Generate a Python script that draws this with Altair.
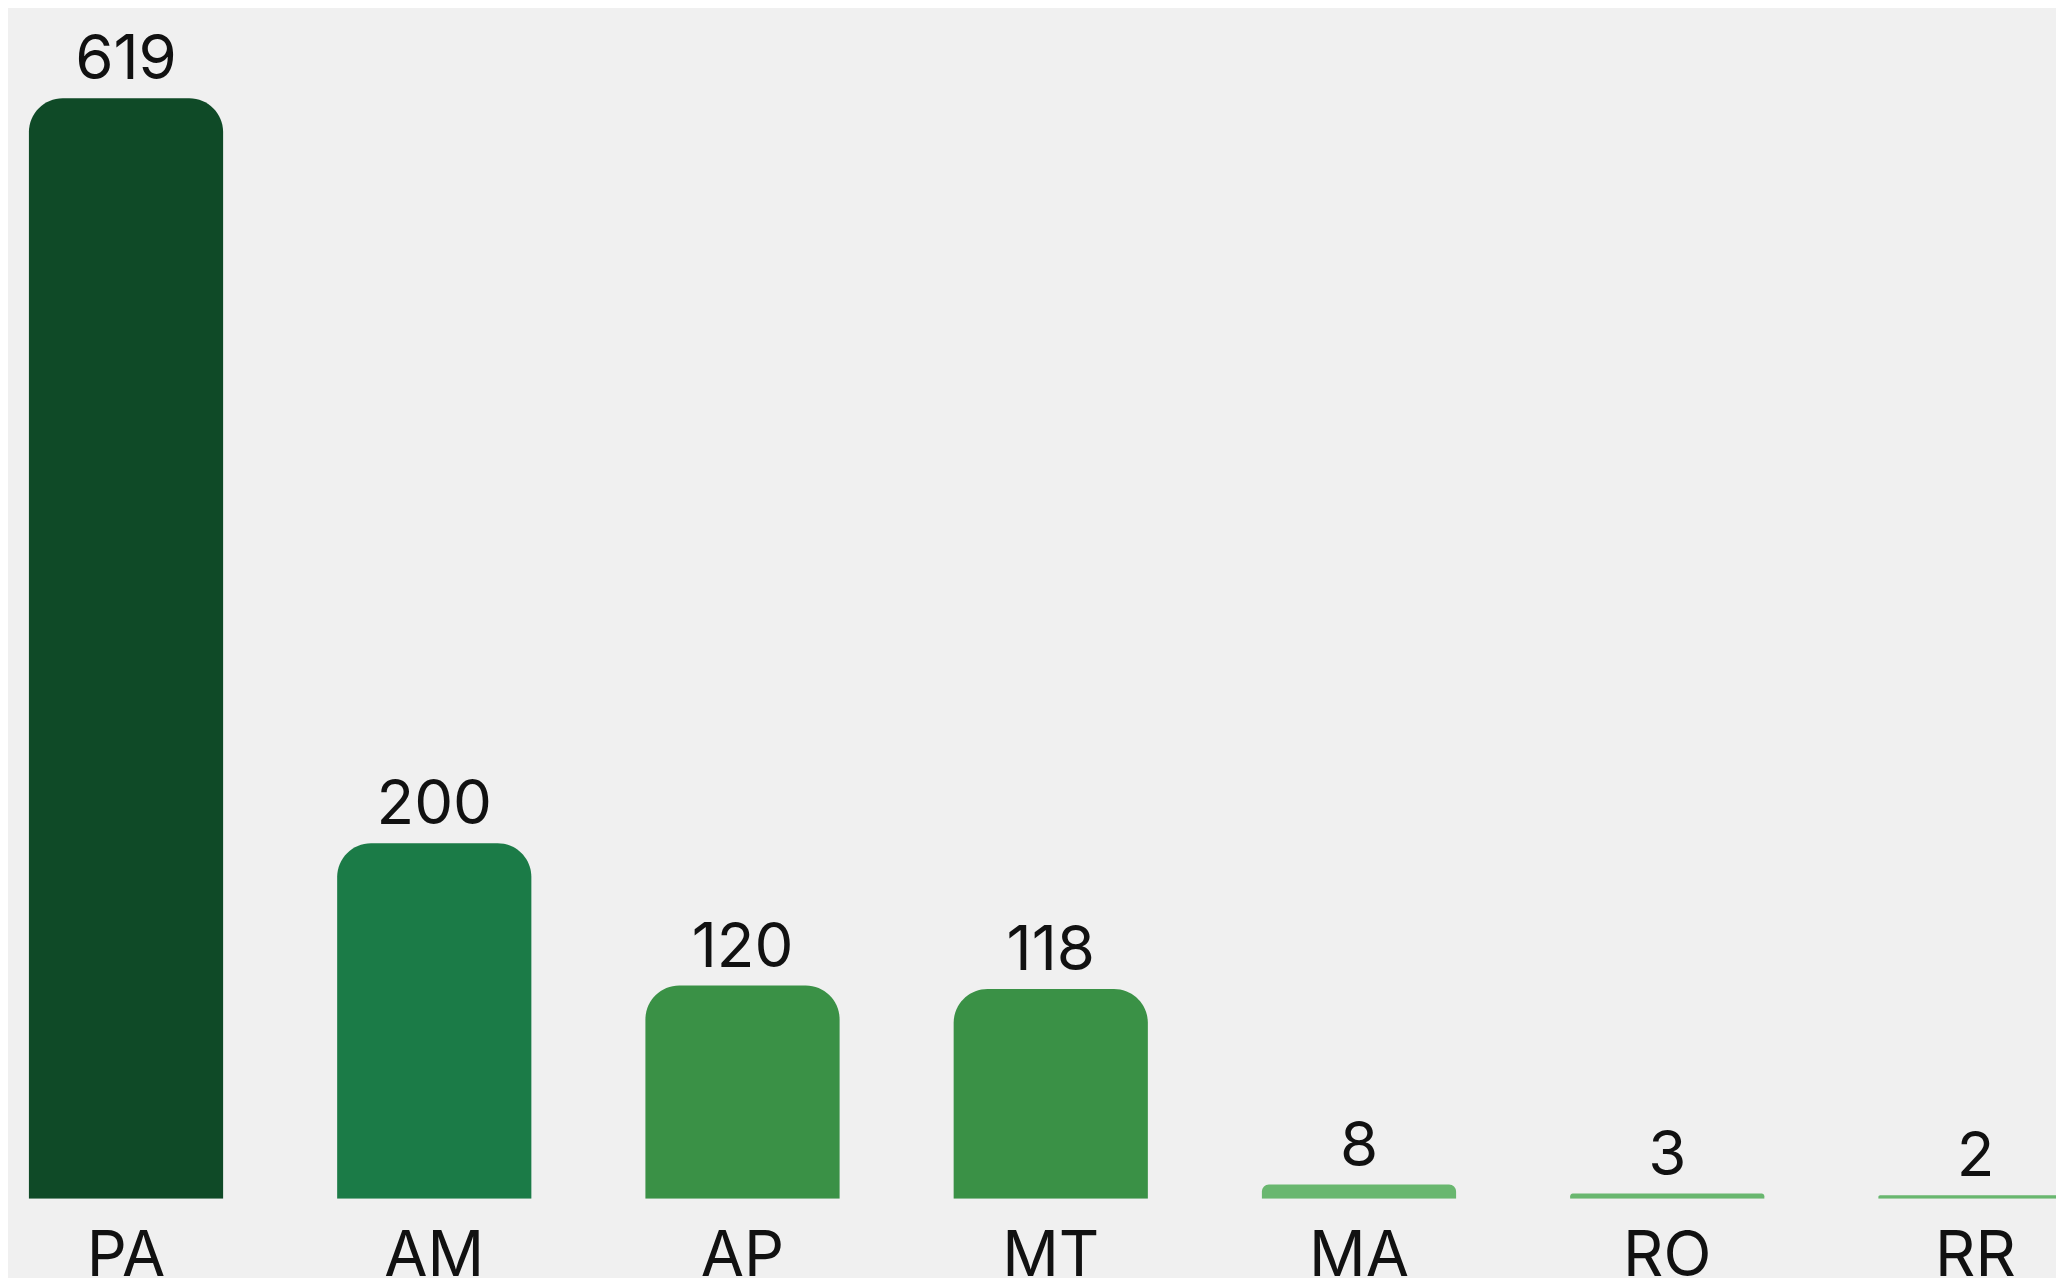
import altair as alt
import pandas as pd

states = ["PA", "AM", "AP", "MT", "MA", "RO", "RR"]
values = [619, 200, 120, 118, 8, 3, 2]
colors = ["#0f4a27", "#1b7b47", "#3a9146", "#3a9146", "#69b76f", "#69b76f", "#69b76f"]

df = pd.DataFrame({"state": states, "value": values, "color": colors})

STEP = 309.45
R0 = -36.25
x_scale = alt.Scale(domain=states, range=[R0, R0 + 7 * STEP], paddingInner=0.37, paddingOuter=0.185)
y_scale = alt.Scale(domain=[0, 668.3], nice=False, zero=True)

FONT = "Inter"

base = alt.Chart(df).encode(
    x=alt.X("state:N", sort=states, scale=x_scale,
            axis=alt.Axis(title=None, ticks=False, tickSize=0, domain=False, grid=False,
                          labelFontSize=63, labelFont=FONT, labelColor="#111111",
                          labelPadding=77, labelBaseline="alphabetic", labelAngle=0)),
    y=alt.Y("value:Q", scale=y_scale, axis=None),
)

bars = base.mark_rect(cornerRadiusTopLeft=34, cornerRadiusTopRight=34, clip=True).encode(
    y2=alt.datum(0),
    color=alt.Color("color:N", scale=None),
)

labels = base.mark_text(dy=-19, baseline="alphabetic", fontSize=62, font=FONT,
                        color="#111111", clip=True).encode(text="value:Q")

chart = alt.layer(bars, labels).properties(
    width=2056, height=1193,
    padding={"left": 0, "right": 0, "top": 0, "bottom": 77},
    autosize=alt.AutoSizeParams(type="none"),
    background="#f0f0f0",
).configure_view(stroke=None)

chart.save("out.html", embed_options={"renderer": "svg", "actions": False})
